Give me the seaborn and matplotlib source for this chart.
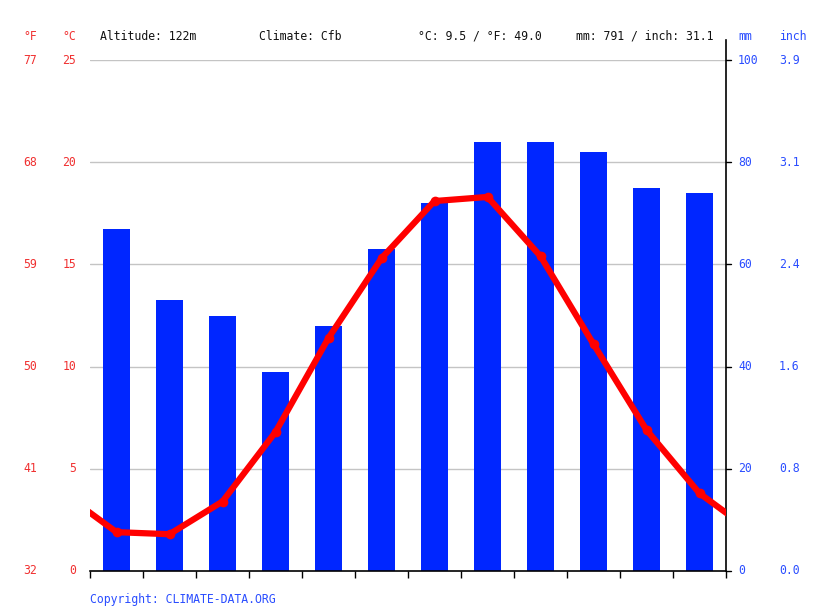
import numpy as np
import pandas as pd
import seaborn as sns
import matplotlib.pyplot as plt

# monthly climate values
months = ['01', '02', '03', '04', '05', '06', '07', '08', '09', '10', '11', '12']
precip_mm = [67, 53, 50, 39, 48, 63, 72, 84, 84, 82, 75, 74]
temp_c = [1.9, 1.8, 3.4, 6.8, 11.4, 15.3, 18.1, 18.3, 15.4, 11.1, 6.9, 3.8]

temp_ticks_c = [0, 5, 10, 15, 20, 25]
temp_ticks_f = ['32', '41', '50', '59', '68', '77']
precip_ticks_mm = [0, 20, 40, 60, 80, 100]
precip_ticks_in = ['0.0', '0.8', '1.6', '2.4', '3.1', '3.9']

RED = '#ff0000'
LABEL_RED = '#f03030'
BLUE = '#0026ff'
LABEL_BLUE = '#2a4dff'
MONO = 'DejaVu Sans Mono'


def main():
    sns.set_style('white')

    fig = plt.figure(figsize=(8.15, 6.11), dpi=100)
    ax = fig.add_axes([90 / 815, 1 - 571 / 611, 636 / 815, 511 / 611])

    # precipitation bars (mm scale)
    bars = pd.DataFrame({'month': months, 'mm': precip_mm})
    sns.barplot(data=bars, x='month', y='mm', color=BLUE, saturation=1,
                width=0.52, linewidth=0, ax=ax)
    ax.set_ylim(0, 100)
    ax.set_xlim(-0.5, 11.5)

    # temperature line on a twin axis (°C scale), wrapped round the year
    ax2 = ax.twinx()
    xs = [-1] + list(range(12)) + [12]
    ts = [temp_c[-1]] + temp_c + [temp_c[0]]
    line = pd.DataFrame({'x': xs, 't': ts})
    sns.lineplot(data=line, x='x', y='t', color=RED, linewidth=4.5,
                 marker='o', markersize=7, markeredgewidth=0, ax=ax2)
    ax2.set_ylim(0, 25)
    ax2.set_xlim(-0.5, 11.5)

    # gridlines at the temperature steps
    for v in temp_ticks_c[1:]:
        ax.axhline(v * 4, color='#c4c4c4', linewidth=1, zorder=0)

    for a in (ax, ax2):
        a.set_xlabel('')
        a.set_ylabel('')
        a.set_yticks([])
        for s in ('top', 'left', 'right'):
            a.spines[s].set_visible(False)
    ax2.spines['bottom'].set_visible(False)
    ax.spines['bottom'].set_color('black')
    ax.spines['bottom'].set_linewidth(1.2)
    ax.spines['right'].set_visible(True)
    ax.spines['right'].set_color('black')
    ax.spines['right'].set_linewidth(1.2)
    ax.spines['right'].set_bounds(0, 104)

    # month labels with boundary ticks
    ax.set_xticks(range(12))
    ax.set_xticklabels(months, fontsize=9, color='#333333')
    ax.tick_params(axis='x', which='major', length=0, pad=7)
    ax.set_xticks(np.arange(-0.5, 12, 1), minor=True)
    ax.tick_params(axis='x', which='minor', length=5, width=1, color='black',
                   direction='out', bottom=True)
    ax2.set_xticks([])

    # y labels on both sides
    ytr = ax.get_yaxis_transform()
    for c, f in zip(temp_ticks_c, temp_ticks_f):
        ax.text(-0.022, c * 4, str(c), transform=ytr, ha='right', va='center',
                color=LABEL_RED, fontsize=8.3, family=MONO)
        ax.text(-0.083, c * 4, f, transform=ytr, ha='right', va='center',
                color=LABEL_RED, fontsize=8.3, family=MONO)
    for m, i in zip(precip_ticks_mm, precip_ticks_in):
        ax.plot([1.0, 1.008], [m, m], transform=ytr, color='black',
                linewidth=1, clip_on=False)
        ax.text(1.019, m, str(m), transform=ytr, ha='left', va='center',
                color=LABEL_BLUE, fontsize=8.3, family=MONO)
        ax.text(1.083, m, i, transform=ytr, ha='left', va='center',
                color=LABEL_BLUE, fontsize=8.3, family=MONO)

    # header row
    hy = 1 - 36 / 611
    fig.text(37 / 815, hy, '°F', ha='right', va='center', color=LABEL_RED,
             fontsize=8.3, family=MONO)
    fig.text(76 / 815, hy, '°C', ha='right', va='center', color=LABEL_RED,
             fontsize=8.3, family=MONO)
    fig.text(100 / 815, hy, 'Altitude: 122m', va='center', color='#111111',
             fontsize=8.3, family=MONO)
    fig.text(259 / 815, hy, 'Climate: Cfb', va='center', color='#111111',
             fontsize=8.3, family=MONO)
    fig.text(418 / 815, hy, '°C: 9.5 / °F: 49.0', va='center',
             color='#111111', fontsize=8.3, family=MONO)
    fig.text(576 / 815, hy, 'mm: 791 / inch: 31.1', va='center',
             color='#111111', fontsize=8.3, family=MONO)
    fig.text(738 / 815, hy, 'mm', va='center', color=LABEL_BLUE,
             fontsize=8.3, family=MONO)
    fig.text(779 / 815, hy, 'inch', va='center', color=LABEL_BLUE,
             fontsize=8.3, family=MONO)

    fig.text(90 / 815, 1 - 599 / 611, 'Copyright: CLIMATE-DATA.ORG',
             va='center', color=LABEL_BLUE, fontsize=8.3, family=MONO)

    fig.savefig('out.png', dpi=100)


if __name__ == '__main__':
    main()
